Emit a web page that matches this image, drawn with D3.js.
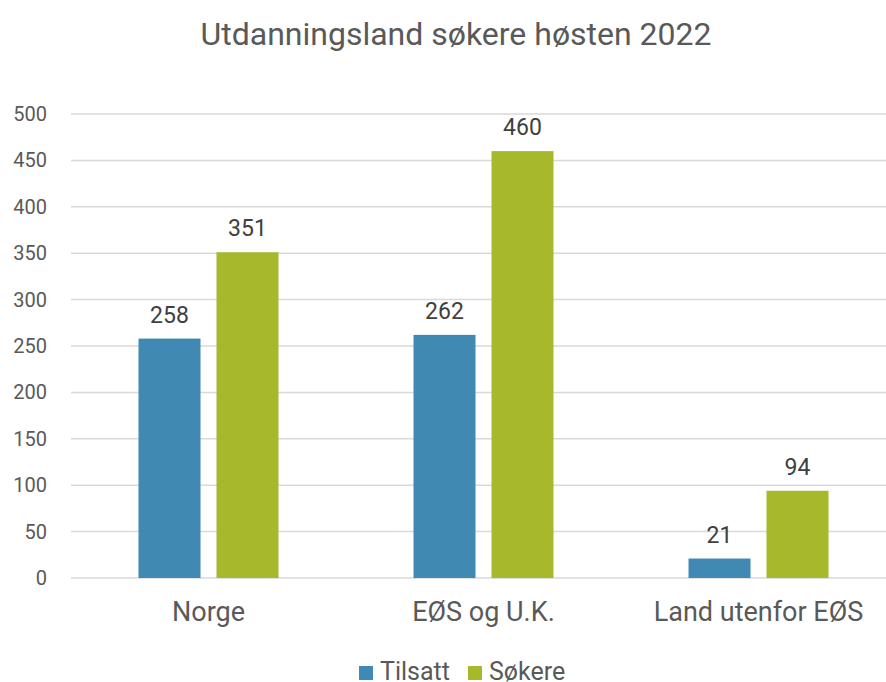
<!DOCTYPE html>
<html>
<head>
<meta charset="utf-8">
<script src="https://cdn.jsdelivr.net/npm/d3@7"></script>
<style>
  body { margin: 0; background: #fff; }
  svg { display: block; font-family: Roboto, "Noto Sans", sans-serif; }
</style>
</head>
<body>
<svg id="chart"></svg>
<script>
// Data
const categories = ["Norge", "EØS og U.K.", "Land utenfor EØS"];
const series = ["Tilsatt", "Søkere"];
const tilsatt = [258, 262, 21];
const sokere = [351, 460, 94];
const yTicks = [0, 50, 100, 150, 200, 250, 300, 350, 400, 450, 500];
const colors = ["#3f89b3", "#a7b82a"];

const width = 886, height = 682;
const margin = { top: 114, right: -10, bottom: 104, left: 71 };

const svg = d3.select("#chart").attr("width", width).attr("height", height);

const rows = categories.map((c, i) => ({ cat: c, values: [tilsatt[i], sokere[i]] }));

const x0 = d3.scaleBand()
    .domain(categories)
    .range([margin.left, width - margin.right])
    .padding(0);

const bw = x0.bandwidth();
const x1 = d3.scaleBand()
    .domain(series)
    .range([bw / 2 - 70, bw / 2 + 70])
    .paddingInner(0.205)
    .paddingOuter(0);

const y = d3.scaleLinear()
    .domain([0, 500])
    .range([height - margin.bottom, margin.top]);

// gridlines
svg.append("g")
    .selectAll("line")
    .data(yTicks)
    .join("line")
    .attr("x1", margin.left)
    .attr("x2", width)
    .attr("y1", d => y(d))
    .attr("y2", d => y(d))
    .attr("stroke", "#d9d9d9")
    .attr("stroke-width", 1.5);

// y axis labels
const yAxis = svg.append("g")
    .attr("transform", `translate(${margin.left - 24},0)`)
    .call(d3.axisLeft(y).tickValues(yTicks).tickSize(0).tickPadding(0));
yAxis.select(".domain").remove();
yAxis.selectAll("text")
    .attr("font-family", "Roboto")
    .attr("font-size", 20)
    .attr("fill", "#595959");

// bars
const groups = svg.append("g")
    .selectAll("g")
    .data(rows)
    .join("g")
    .attr("transform", d => `translate(${x0(d.cat)},0)`);

groups.selectAll("rect")
    .data(d => d.values.map((v, i) => ({ key: series[i], value: v, i })))
    .join("rect")
    .attr("x", d => x1(d.key))
    .attr("y", d => y(d.value))
    .attr("width", x1.bandwidth())
    .attr("height", d => y(0) - y(d.value))
    .attr("fill", d => colors[d.i]);

groups.selectAll("text")
    .data(d => d.values.map((v, i) => ({ key: series[i], value: v })))
    .join("text")
    .attr("x", d => x1(d.key) + x1.bandwidth() / 2)
    .attr("y", d => y(d.value) - 16)
    .attr("text-anchor", "middle")
    .attr("font-size", 23)
    .attr("fill", "#404040")
    .text(d => d.value);

// x axis labels
const xAxis = svg.append("g")
    .attr("transform", `translate(0,${y(0)})`)
    .call(d3.axisBottom(x0).tickSize(0).tickPadding(24));
xAxis.select(".domain").remove();
xAxis.selectAll("text")
    .attr("font-family", "Roboto")
    .attr("font-size", 27)
    .attr("fill", "#595959");

// title
svg.append("text")
    .attr("x", 456)
    .attr("y", 45)
    .attr("text-anchor", "middle")
    .attr("font-size", 32)
    .attr("fill", "#595959")
    .text("Utdanningsland søkere høsten 2022");

// legend
const legendX = [359, 468];
const legend = svg.append("g")
    .selectAll("g")
    .data(series)
    .join("g")
    .attr("transform", (d, i) => `translate(${legendX[i]},666)`);
legend.append("rect")
    .attr("width", 14)
    .attr("height", 14)
    .attr("fill", (d, i) => colors[i]);
legend.append("text")
    .attr("x", 21)
    .attr("y", 14)
    .attr("font-size", 25)
    .attr("fill", "#595959")
    .text(d => d);
</script>
</body>
</html>
